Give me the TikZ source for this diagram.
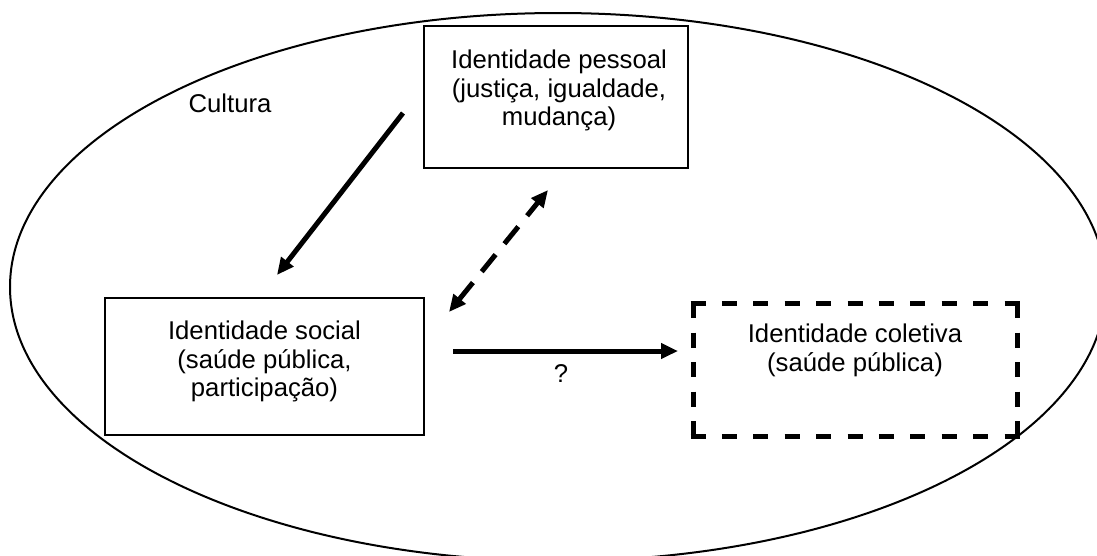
\documentclass[tikz,border=0pt]{standalone}
\usepackage{fontspec}
\setmainfont{Liberation Sans}
\usetikzlibrary{arrows.meta,shapes.geometric,calc}
\begin{document}
\begin{tikzpicture}[x=1pt,y=-1pt,
  every node/.style={inner sep=0pt, outer sep=0pt, font=\fontsize{25.7pt}{28.5pt}\selectfont},
  box/.style={draw, line width=2.5pt, rectangle},
  dashh/.style={line width=5pt, dash pattern=on 15pt off 16.4pt},
  dashv/.style={line width=5pt, dash pattern=on 15pt off 14.5pt},
  boxtext/.style={align=center, anchor=north},
  arr/.style={line width=5pt, -{Triangle[length=17pt,width=15pt]}},
  darr/.style={line width=5pt, dash pattern=on 22pt off 14pt,
    {Triangle[length=17pt,width=15pt]}-{Triangle[length=17pt,width=15pt]}},
]
\useasboundingbox (0,0) rectangle (1097,555);
\clip (0,0) rectangle (1097,555);

% the surrounding culture ellipse
\node[draw, ellipse, line width=2pt, minimum width=1096pt, minimum height=548pt] (cultura) at (558,287) {};
\node (cultura-label) at (230,103) {Cultura};

% identity boxes
\node[box, minimum width=264pt, minimum height=142pt] (pessoal) at (556,97) {};
\node[boxtext] (pessoal-text) at ($(pessoal.north)+(3,24)$)
  {Identidade pessoal\\(justiça, igualdade,\\mudança)};

\node[box, minimum width=319pt, minimum height=137pt] (social) at (264.5,366.5) {};
\node[boxtext] (social-text) at ($(social.north)+(0,23)$)
  {Identidade social\\(saúde pública,\\participação)};

% collective identity: dashed frame, each side starting and ending on a dash
\node[rectangle, minimum width=324pt, minimum height=133pt] (coletiva) at (855,369.5) {};
\draw[dashh] ($(coletiva.north west)+(-2.5,0)$) -- ($(coletiva.north east)+(2.5,0)$);
\draw[dashh] ($(coletiva.south west)+(-2.5,0)$) -- ($(coletiva.south east)+(2.5,0)$);
\draw[dashv] (coletiva.north west) -- (coletiva.south west);
\draw[dashv] (coletiva.north east) -- (coletiva.south east);
\node[boxtext] (coletiva-text) at ($(coletiva.north)+(0,21)$)
  {Identidade coletiva\\(saúde pública)};

% connectors
\draw[arr] ($(pessoal.west)+(-21,16)$) -- ($(social.north)+(12.5,-23)$);
\draw[darr] ($(social.north east)+(25,14)$) -- ($(pessoal.south)+(-8,22)$);
\coordinate (q1) at ($(social.east)+(29,-15.5)$);
\draw[arr, shorten >=15pt] (q1) -- (q1 -| coletiva.west)
  node[pos=0.45, anchor=north, yshift=-14pt] (q) {?};
\end{tikzpicture}
\end{document}
